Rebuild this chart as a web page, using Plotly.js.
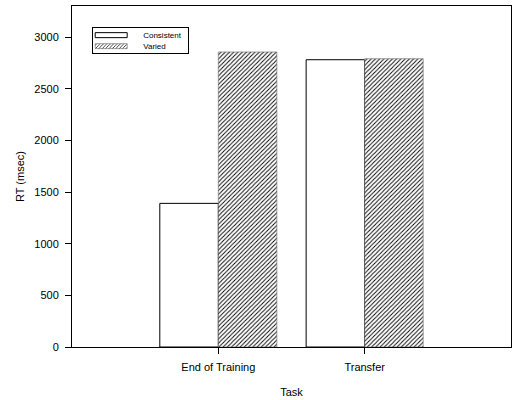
<!DOCTYPE html>
<html>
<head>
<meta charset="utf-8">
<script src="https://cdn.plot.ly/plotly-3.0.1.min.js"></script>
<style>html,body{margin:0;padding:0;background:#fff;}#chart{width:512px;height:400px;}</style>
</head>
<body>
<div id="chart"></div>
<script>
const categories = ['End of Training', 'Transfer'];
const consistentRT = [1390, 2780];
const variedRT = [2855, 2790];
const seriesNames = ['Consistent', 'Varied'];

const FONT = '"Liberation Sans", Arial, sans-serif';

const traces = [
  {
    type: 'bar', name: seriesNames[0], x: categories, y: consistentRT,
    offset: -0.4, width: 0.4,
    marker: {color: '#ffffff', line: {color: '#000000', width: 1}},
    hoverinfo: 'skip'
  },
  {
    type: 'bar', name: seriesNames[1], x: categories, y: variedRT,
    offset: 0, width: 0.4,
    marker: {
      color: '#ffffff',
      line: {color: '#666666', width: 0.6},
      pattern: {shape: '/', fgcolor: '#000000', bgcolor: '#ffffff', size: 3, solidity: 0.3}
    },
    hoverinfo: 'skip'
  }
];

const layout = {
  width: 512, height: 400,
  margin: {l: 72, r: 1, t: 6, b: 53, pad: 0},
  paper_bgcolor: '#ffffff', plot_bgcolor: '#ffffff',
  barmode: 'overlay',
  showlegend: true,
  font: {family: FONT, size: 11, color: '#000'},
  legend: {
    x: 0.046, y: 0.938, xanchor: 'left', yanchor: 'top',
    bgcolor: '#ffffff', bordercolor: '#000', borderwidth: 1,
    font: {family: FONT, size: 8, color: '#000'},
    itemwidth: 40, tracegroupgap: 0, traceorder: 'normal'
  },
  xaxis: {
    type: 'category', range: [-1, 2],
    showgrid: false, zeroline: false,
    showline: true, linecolor: '#000', linewidth: 1, mirror: true,
    ticks: 'outside', ticklen: 6, tickcolor: '#000',
    ticklabelstandoff: 4,
    tickfont: {family: FONT, size: 11, color: '#000'},
    title: {text: 'Task', font: {family: FONT, size: 11, color: '#000'}, standoff: 16}
  },
  yaxis: {
    range: [0, 3300], dtick: 500, tick0: 0,
    showgrid: false, zeroline: false,
    showline: true, linecolor: '#000', linewidth: 1, mirror: true,
    ticks: 'outside', ticklen: 6, tickcolor: '#000',
    ticklabelstandoff: 4,
    tickfont: {family: FONT, size: 11, color: '#000'},
    title: {text: 'RT (msec)', font: {family: FONT, size: 11, color: '#000'}, standoff: 7}
  }
};

Plotly.newPlot('chart', traces, layout, {staticPlot: true, displayModeBar: false}).then(function (gd) {
  document.querySelectorAll('.legend .legendpoints path').forEach(function (p) {
    p.setAttribute('d', 'M-23,-2.5H9V2.5H-23Z');
  });
  const items = document.querySelectorAll('.legend .traces');
  items.forEach(function (g, i) {
    const t = g.getAttribute('transform') || '';
    const m = t.match(/translate\(([-\d.]+)[ ,]+([-\d.]+)\)/);
    const x = m ? parseFloat(m[1]) : 0;
    g.setAttribute('transform', 'translate(' + x + ',' + (8 + 11 * i) + ')');
  });
  const bg = document.querySelector('.legend .bg');
  if (bg) { bg.setAttribute('height', 26); bg.setAttribute('width', 96); }
});
</script>
</body>
</html>
